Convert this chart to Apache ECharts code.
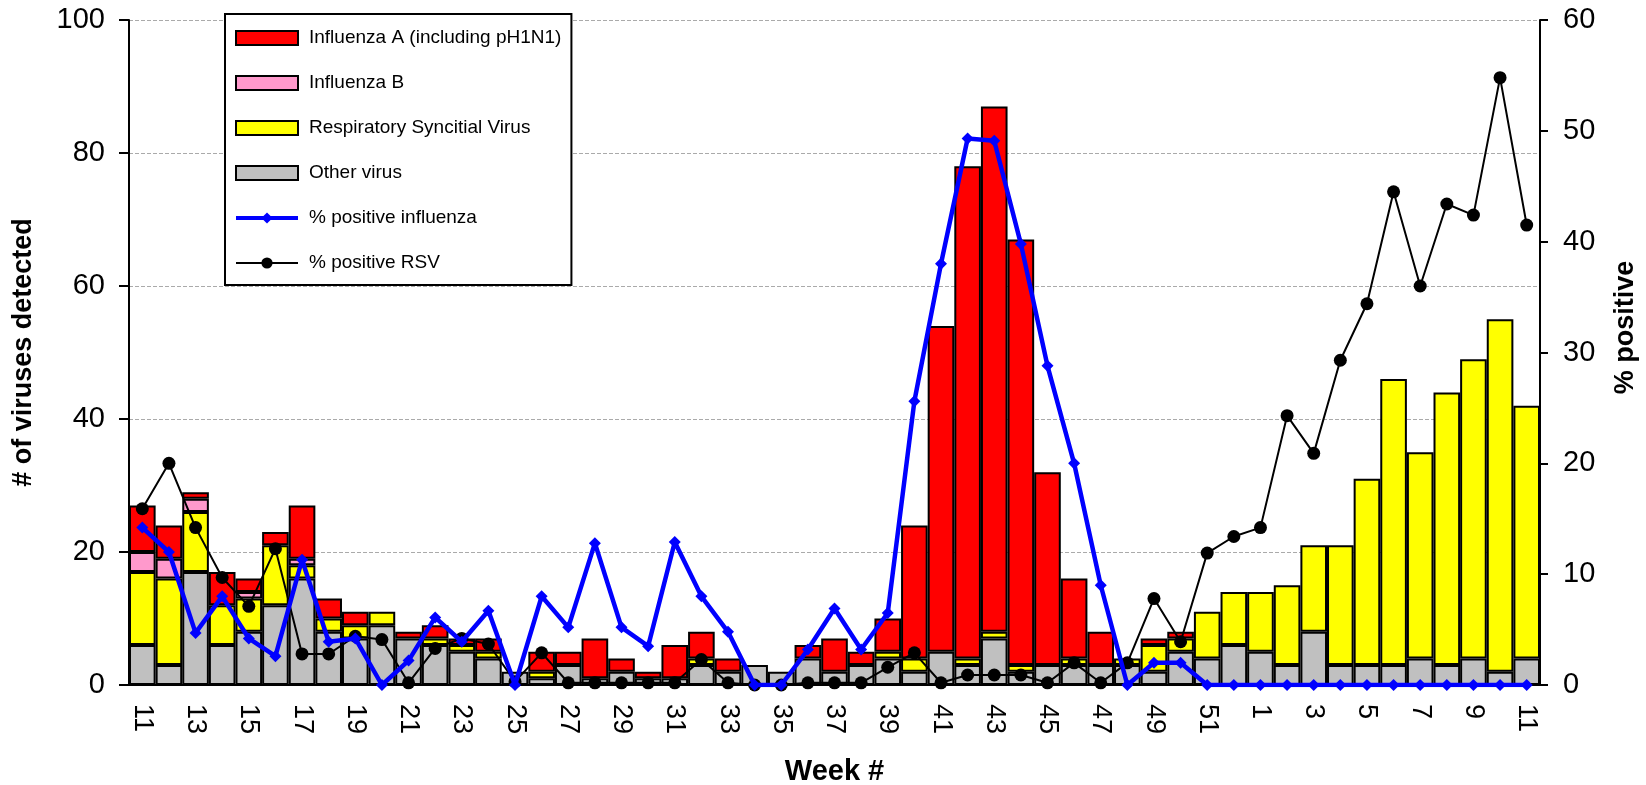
<!DOCTYPE html>
<html>
<head>
<meta charset="utf-8">
<script src="https://cdn.jsdelivr.net/npm/echarts@6/dist/echarts.min.js"></script>
<style>
  html, body { margin: 0; padding: 0; background: #fff; }
  #chart { width: 1646px; height: 785px; }
</style>
</head>
<body>
<div id="chart"></div>
<script>
// weeks 11..52, then 1..11
var weeks = ['11','12','13','14','15','16','17','18','19','20','21','22','23','24','25','26','27','28','29','30',
             '31','32','33','34','35','36','37','38','39','40','41','42','43','44','45','46','47','48','49','50',
             '51','52','1','2','3','4','5','6','7','8','9','10','11'];

// number of viruses detected (stacked, bottom to top)
var otherVirus = [6,3,17,6,8,12,16,8,7,9,7,6,5,4,2,1,3,1,2,1,
                  1,3,2,3,2,4,2,3,4,2,5,3,7,2,3,3,3,3,2,5,
                  4,6,5,3,8,3,3,3,4,3,4,2,4];
var rsv        = [11,13,9,6,5,9,2,2,2,2,0,1,1,1,0,1,0,0,0,0,
                  0,1,0,0,0,0,0,0,1,2,0,1,1,1,0,1,0,1,4,2,
                  7,8,9,12,13,18,28,43,31,41,45,53,38];
var fluB       = [3,3,2,0,1,0,1,0,0,0,0,0,0,0,0,0,0,0,0,0,
                  0,0,0,0,0,0,0,0,0,0,0,0,0,0,0,0,0,0,0,0,
                  0,0,0,0,0,0,0,0,0,0,0,0,0];
var fluA       = [7,5,1,5,2,2,8,3,2,0,1,2,1,2,0,3,2,6,2,1,
                  5,4,2,0,0,2,5,2,5,20,49,74,79,64,29,12,5,0,1,1,
                  0,0,0,0,0,0,0,0,0,0,0,0,0];

// % positive
var pctFlu = [14.2,12.0,4.7,8.0,4.2,2.6,11.3,3.9,4.2,0,2.2,6.1,3.9,6.7,0,8.0,5.2,12.8,5.2,3.5,
              12.9,8.0,4.8,0,0,3.2,6.9,3.2,6.5,25.6,38.0,49.3,49.1,39.8,28.8,20.0,9.0,0,2.0,2.0,
              0,0,0,0,0,0,0,0,0,0,0,0,0];
var pctRsv = [15.9,20.0,14.2,9.7,7.1,12.3,2.8,2.8,4.4,4.1,0.2,3.3,4.2,3.7,0.3,2.9,0.2,0.2,0.2,0.2,
              0.2,2.3,0.2,0,0,0.2,0.2,0.2,1.6,2.9,0.2,0.9,0.9,0.9,0.2,2.0,0.2,2.0,7.8,3.9,
              11.9,13.4,14.2,24.3,20.9,29.3,34.4,44.5,36.0,43.4,42.4,54.8,41.5];

var font = 'Liberation Sans, Arial, sans-serif';

function noZero(arr) {
    return arr.map(function (v) { return v === 0 ? '-' : v; });
}

function barSeries(name, color, data) {
    return {
        name: name,
        type: 'bar',
        stack: 'viruses',
        barCategoryGap: '0%',
        itemStyle: { color: color, borderColor: '#000', borderWidth: 2 },
        data: noZero(data)
    };
}

var chart = echarts.init(document.getElementById('chart'));
chart.setOption({
    animation: false,
    backgroundColor: '#fff',
    textStyle: { fontFamily: font, color: '#000' },
    grid: { left: 129, right: 106, top: 20, bottom: 100, outerBoundsMode: 'none', containLabel: false },
    legend: {
        orient: 'vertical',
        left: 225,
        top: 14,
        data: [
            { name: 'Influenza A (including pH1N1)', icon: 'rect' },
            { name: 'Influenza B', icon: 'rect' },
            { name: 'Respiratory Syncitial Virus', icon: 'rect' },
            { name: 'Other virus', icon: 'rect' },
            { name: '% positive influenza', lineStyle: { width: 4, color: '#0000FF' } },
            { name: '% positive RSV', lineStyle: { width: 2, color: '#000' } }
        ],
        backgroundColor: '#fff',
        borderColor: '#000',
        borderWidth: 2,
        borderRadius: 0,
        padding: [12, 10, 10, 9],
        itemWidth: 62,
        itemHeight: 14,
        itemGap: 21,
        selectedMode: false,
        textStyle: { fontFamily: font, fontSize: 19, color: '#000', lineHeight: 24, padding: [0, 0, 0, 6] }
    },
    xAxis: {
        type: 'category',
        data: weeks,
        boundaryGap: true,
        name: 'Week #',
        nameLocation: 'middle',
        nameGap: 72,
        nameTextStyle: { fontFamily: font, fontSize: 29, fontWeight: 'bold', color: '#000' },
        axisLine: { lineStyle: { color: '#000', width: 2 } },
        axisTick: { interval: 0, length: 11, lineStyle: { color: '#000', width: 2 } },
        axisLabel: { interval: 1, rotate: -90, margin: 19, fontSize: 27, color: '#000', fontFamily: font }
    },
    yAxis: [
        {
            type: 'value',
            min: 0, max: 100, interval: 20,
            name: '# of viruses detected',
            nameLocation: 'middle',
            nameRotate: 90,
            nameGap: 92,
            nameTextStyle: { fontFamily: font, fontSize: 27, fontWeight: 'bold', color: '#000' },
            axisLine: { show: true, lineStyle: { color: '#000', width: 2 } },
            axisTick: { show: true, length: 10, lineStyle: { color: '#000', width: 2 } },
            axisLabel: { fontSize: 29, color: '#000', margin: 24, fontFamily: font },
            splitLine: { show: true, lineStyle: { color: '#aaa', width: 1, type: [4, 2] } }
        },
        {
            type: 'value',
            min: 0, max: 60, interval: 10,
            position: 'right',
            name: '% positive',
            nameLocation: 'middle',
            nameRotate: 90,
            nameGap: 72,
            nameTextStyle: { fontFamily: font, fontSize: 27, fontWeight: 'bold', color: '#000', padding: [0, 0, 0, 50] },
            axisLine: { show: true, lineStyle: { color: '#000', width: 2 } },
            axisTick: { show: true, length: 8, lineStyle: { color: '#000', width: 2 } },
            axisLabel: { fontSize: 29, color: '#000', margin: 23, fontFamily: font },
            splitLine: { show: false }
        }
    ],
    series: [
        barSeries('Other virus', '#C0C0C0', otherVirus),
        barSeries('Respiratory Syncitial Virus', '#FFFF00', rsv),
        barSeries('Influenza B', '#FF99CC', fluB),
        barSeries('Influenza A (including pH1N1)', '#FF0000', fluA),
        {
            name: '% positive influenza',
            type: 'line',
            yAxisIndex: 1,
            symbol: 'diamond',
            symbolSize: 12,
            itemStyle: { color: '#0000FF' },
            lineStyle: { color: '#0000FF', width: 4.5 },
            z: 5,
            data: pctFlu
        },
        {
            name: '% positive RSV',
            type: 'line',
            yAxisIndex: 1,
            symbol: 'circle',
            symbolSize: 13,
            itemStyle: { color: '#000' },
            lineStyle: { color: '#000', width: 2 },
            z: 4,
            data: pctRsv
        }
    ]
});
</script>
</body>
</html>
